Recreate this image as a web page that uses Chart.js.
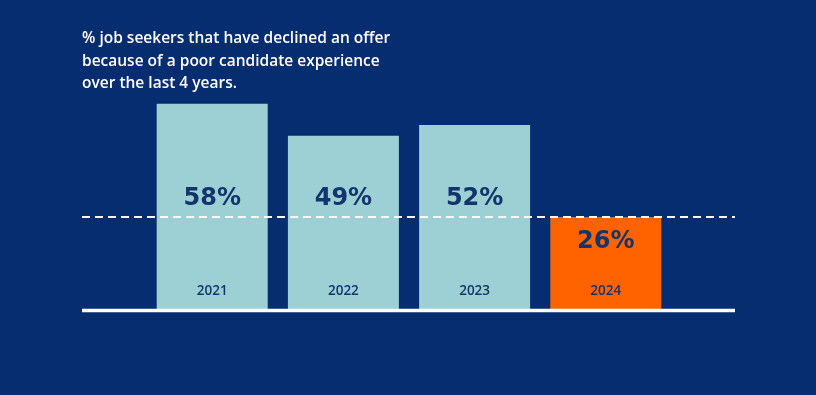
<!DOCTYPE html>
<html lang="en">

<head>
    <meta charset="UTF-8">
    <title>Declined offers</title>
    <script src="https://cdn.jsdelivr.net/npm/chart.js"></script>
    <style>
        html,
        body {
            margin: 0;
            padding: 0;
            background-color: #062d6f;
        }

        .wrap {
            position: relative;
            width: 816px;
            height: 395px;
        }
    </style>
</head>

<body>
    <div class="wrap">
        <canvas id="declinedChart" width="816" height="395"></canvas>
    </div>

    <script>
        const titleLines = [
            '% job seekers that have declined an offer',
            'because of a poor candidate experience',
            'over the last 4 years.'
        ];
        const years = ['2021', '2022', '2023', '2024'];
        const declinedPct = [58, 49, 52, 26];
        const referenceValue = 26;

        const teal = '#9dd0d5';
        const orange = '#ff6300';
        const navy = '#13356c';

        // empty slots at both ends so the axis runs past the bars
        const labels = [''].concat(years, ['']);
        const values = [null].concat(declinedPct, [null]);
        const colors = values.map((v, i) => i === years.length ? orange : teal);

        const overlay = {
            id: 'overlay',
            afterDatasetsDraw(chart) {
                const ctx = chart.ctx;
                const area = chart.chartArea;
                const y = chart.scales.y;
                const meta = chart.getDatasetMeta(0);
                const refY = y.getPixelForValue(referenceValue);
                const lineEnd = area.right - 2;

                ctx.save();

                // title
                ctx.fillStyle = '#ffffff';
                ctx.font = '600 15.5px "Open Sans"';
                ctx.textAlign = 'left';
                ctx.textBaseline = 'middle';
                titleLines.forEach((line, i) => ctx.fillText(line, 82, 39 + i * 22.5));

                // dashed reference line
                ctx.strokeStyle = '#ffffff';
                ctx.lineWidth = 2;
                ctx.setLineDash([8, 5]);
                ctx.beginPath();
                ctx.moveTo(area.left + 1, refY);
                ctx.lineTo(lineEnd, refY);
                ctx.stroke();

                // baseline
                ctx.setLineDash([]);
                ctx.lineWidth = 3.5;
                ctx.beginPath();
                ctx.moveTo(area.left + 1, area.bottom + 1.5);
                ctx.lineTo(lineEnd, area.bottom + 1.5);
                ctx.stroke();

                // labels inside the bars
                ctx.textAlign = 'center';
                meta.data.forEach((bar, i) => {
                    const v = values[i];
                    if (v === null) return;
                    ctx.fillStyle = navy;
                    ctx.font = 'bold 24px "DejaVu Sans"';
                    const ly = v > referenceValue ? refY - 18 : bar.y + 25;
                    ctx.fillText(v + '%', bar.x, ly);
                    ctx.font = '600 13.5px "Open Sans"';
                    ctx.fillText(labels[i], bar.x, area.bottom - 18);
                });

                ctx.restore();
            }
        };

        new Chart(document.getElementById('declinedChart'), {
            type: 'bar',
            data: {
                labels: labels,
                datasets: [{
                    data: values,
                    backgroundColor: colors,
                    borderWidth: 0,
                    barPercentage: 0.846,
                    categoryPercentage: 1
                }]
            },
            options: {
                responsive: false,
                animation: false,
                layout: {
                    padding: { left: 81, right: 79, top: 96, bottom: 86 }
                },
                scales: {
                    x: { display: false, offset: false },
                    y: { display: false, min: 0, max: 60.2 }
                },
                plugins: {
                    legend: { display: false },
                    tooltip: { enabled: false }
                }
            },
            plugins: [overlay]
        });
    </script>
</body>

</html>
